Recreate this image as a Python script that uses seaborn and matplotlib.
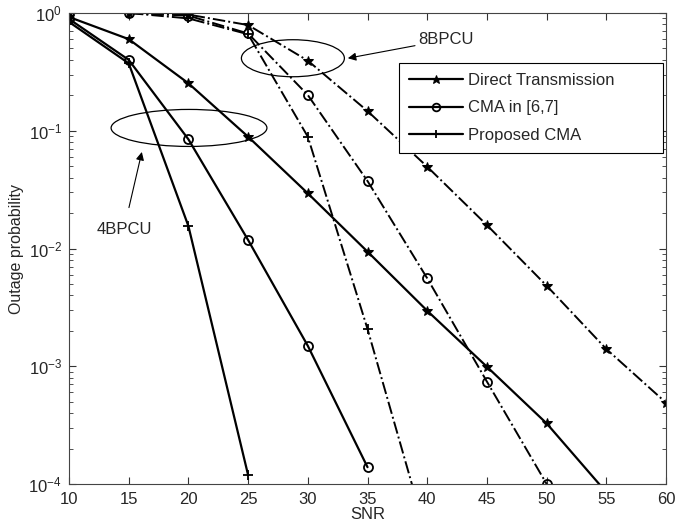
import matplotlib
matplotlib.use("Agg")
import matplotlib.pyplot as plt
import seaborn as sns
from matplotlib.patches import Ellipse
from matplotlib.ticker import LogLocator, NullFormatter, FixedLocator

# SNR points (dB)
snr = [10, 15, 20, 25, 30, 35, 40, 45, 50, 55, 60]

# 4BPCU curves (solid)
direct_4 = [0.925, 0.60, 0.253, 0.089, 0.0294, 0.0094, 0.00296, 0.00099, 0.000327, 8.5e-5]
cma_4 = [0.89, 0.40, 0.0846, 0.0118, 0.00149, 0.000139]
prop_4 = [0.84, 0.374, 0.0155, 0.000119]

# 8BPCU curves (dash-dot)
direct_8 = [1.0, 1.0, 0.97, 0.79, 0.394, 0.147, 0.0495, 0.0158, 0.00483, 0.0014, 0.00049]
cma_8 = [1.0, 1.0, 0.95, 0.67, 0.201, 0.0374, 0.00558, 0.00074, 0.0001]
prop_8 = [1.0, 1.0, 0.90, 0.66, 0.089, 0.00207, 3.5e-5]

labels = ["Direct Transmission", "CMA in [6,7]", "Proposed CMA"]

sns.set_style("ticks")
plt.rcParams["font.family"] = ["Liberation Sans", "DejaVu Sans"]
plt.rcParams["mathtext.default"] = "regular"

fig = plt.figure(figsize=(6.97, 5.27), dpi=100)
ax = fig.add_axes([0.099, 0.0816, 0.8566, 0.8937])

star = dict(marker="*", markersize=7.5, markerfacecolor="black", markeredgecolor="black")
circ = dict(marker="o", markersize=6.5, markerfacecolor="none", markeredgecolor="black", markeredgewidth=1.3)
plus = dict(marker="+", markersize=7, markeredgecolor="black", markeredgewidth=1.3)

# 4BPCU
sns.lineplot(x=snr[:len(direct_4)], y=direct_4, ax=ax, color="black", lw=1.6, label=labels[0], **star)
sns.lineplot(x=snr[:len(cma_4)], y=cma_4, ax=ax, color="black", lw=1.6, label=labels[1], **circ)
sns.lineplot(x=snr[:len(prop_4)], y=prop_4, ax=ax, color="black", lw=1.6, label=labels[2], **plus)

# 8BPCU
sns.lineplot(x=snr[:len(direct_8)], y=direct_8, ax=ax, color="black", lw=1.4, linestyle="-.", **star)
sns.lineplot(x=snr[:len(cma_8)], y=cma_8, ax=ax, color="black", lw=1.4, linestyle="-.", **circ)
sns.lineplot(x=snr[:len(prop_8)], y=prop_8, ax=ax, color="black", lw=1.4, linestyle="-.", **plus)

ax.set_yscale("log")
ax.set_xlim(10, 60)
ax.set_ylim(1e-4, 1)
ax.xaxis.set_major_locator(FixedLocator(snr))
ax.yaxis.set_major_locator(LogLocator(base=10, numticks=10))
ax.yaxis.set_minor_locator(LogLocator(base=10, subs=range(2, 10), numticks=20))
ax.yaxis.set_minor_formatter(NullFormatter())
ax.tick_params(which="both", direction="in", top=True, right=True, labelsize=12, color="#333333")
ax.tick_params(which="major", length=5, width=0.8)
ax.tick_params(which="minor", length=3, width=0.6)
ax.tick_params(axis="x", pad=6)
ax.tick_params(axis="y", pad=5)
for s in ax.spines.values():
    s.set_linewidth(0.8)
    s.set_color("#444444")

ax.set_xlabel("SNR", fontsize=12, labelpad=0)
ax.set_ylabel("Outage probability", fontsize=11.5, labelpad=3)

leg = ax.legend(loc="upper left", bbox_to_anchor=(0.553, 0.5, 0.442, 0.394), mode="expand",
                fontsize=12, frameon=True, fancybox=False, edgecolor="black", framealpha=1,
                handlelength=3.2, borderpad=0.6, labelspacing=0.75, handletextpad=0.3,
                borderaxespad=0, markerscale=0.85)
leg.get_frame().set_linewidth(0.8)

# group ellipses and annotations
ax.add_patch(Ellipse((0.375, 0.904), 0.1725, 0.0786, transform=ax.transAxes,
                     fill=False, edgecolor="black", lw=0.9))
ax.add_patch(Ellipse((0.201, 0.756), 0.261, 0.0786, transform=ax.transAxes,
                     fill=False, edgecolor="black", lw=0.9))
ax.annotate("8BPCU", xy=(0.467, 0.904), xytext=(0.585, 0.943),
            xycoords="axes fraction", textcoords="axes fraction",
            fontsize=12, ha="left", va="center",
            arrowprops=dict(arrowstyle="-|>", color="black", lw=0.8, shrinkA=0, shrinkB=0))
ax.annotate("4BPCU", xy=(0.122, 0.705), xytext=(0.092, 0.541),
            xycoords="axes fraction", textcoords="axes fraction",
            fontsize=12, ha="center", va="center",
            arrowprops=dict(arrowstyle="-|>", color="black", lw=0.8, shrinkA=8, shrinkB=0))

fig.savefig("out.png", dpi=100)
